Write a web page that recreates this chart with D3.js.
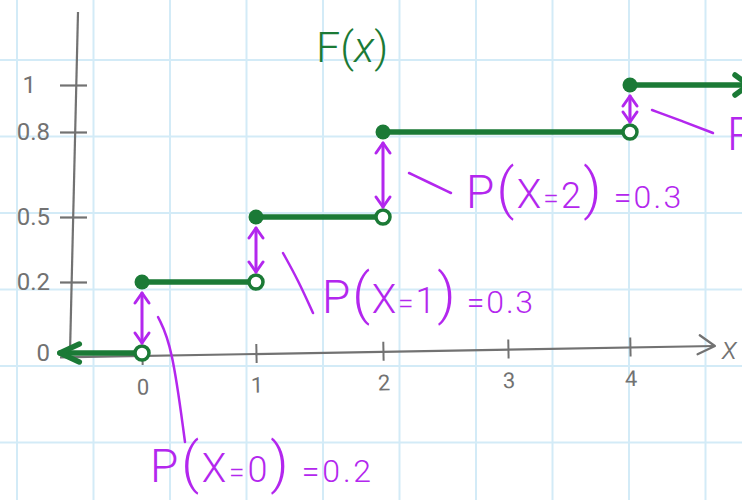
<!DOCTYPE html>
<html lang="en">
<head>
<meta charset="utf-8">
<script src="https://d3js.org/d3.v7.min.js"></script>
<title>F(x) step chart</title>
<style>
    body { margin: 0; background: #fff; }
    svg text { font-family: Roboto, sans-serif; font-weight: 300; }
</style>
</head>
<body>
<div id="container"></div>
<script>
    // data
    var values = [0, 1, 2, 4];
    var cdf = [0.2, 0.5, 0.8, 1];
    var probs = [0.2, 0.3, 0.3, 0.2];
    var yTicks = [0, 0.2, 0.5, 0.8, 1];
    var yTickLabels = ["0", "0.2", "0.5", "0.8", "1"];
    var xTicks = [0, 1, 2, 3, 4];
    var xTickLabels = ["0", "1", "2", "3", "4"];

    var width = 742, height = 500;
    var green = "#1b7a36", magenta = "#b327ee", gray = "#727272", gridColor = "#d3ebf7";

    var svg = d3.select("#container")
        .append("svg")
        .attr("width", width)
        .attr("height", height);

    // the sketch is hand drawn, so the axes are not evenly spaced
    var x = d3.scaleLinear()
        .domain([-1, 0, 1, 2, 3, 4, 5])
        .range([28, 142, 256, 383, 508, 630, 755]);
    var y = d3.scaleLinear()
        .domain([0, 0.2, 0.5, 0.8, 1])
        .range([353, 282, 217, 132, 85]);

    // graph paper
    var grid = svg.append("g").attr("stroke", gridColor).attr("stroke-width", 2);
    grid.selectAll(".v").data(d3.range(17, width, 76.5)).enter().append("line")
        .attr("x1", function(d) { return d; }).attr("x2", function(d) { return d; })
        .attr("y1", 0).attr("y2", height);
    grid.selectAll(".h").data(d3.range(60, height, 76.5)).enter().append("line")
        .attr("x1", 0).attr("x2", width)
        .attr("y1", function(d) { return d; }).attr("y2", function(d) { return d; });

    // y axis
    svg.append("path")
        .attr("d", d3.line()([[78, 12], [70, y(0)]]))
        .attr("stroke", gray).attr("stroke-width", 2.2).attr("fill", "none");
    var yAxis = svg.append("g")
        .attr("transform", "translate(74,0)")
        .call(d3.axisLeft(y).tickValues(yTicks)
            .tickFormat(function(d, i) { return yTickLabels[i]; })
            .tickSize(14).tickPadding(10));
    yAxis.select(".domain").remove();
    yAxis.selectAll(".tick line").attr("x2", -14).attr("x1", 13)
        .attr("stroke", gray).attr("stroke-width", 2.2)
        .style("display", function(d) { return d === 0 ? "none" : null; });
    yAxis.selectAll(".tick text")
        .attr("fill", gray).style("font-size", "24px").style("font-weight", 400)
        .attr("x", function(d) { return d === 1 ? -38 : -24; });

    // x axis, drawn slightly tilted
    var xg = svg.append("g")
        .attr("transform", "translate(0," + (y(0) + 3) + ") rotate(-1," + x(0) + ",0)");
    var xAxis = xg.call(d3.axisBottom(x).tickValues(xTicks)
        .tickFormat(function(d, i) { return xTickLabels[i]; })
        .tickSize(9).tickPadding(14));
    xAxis.select(".domain").remove();
    xAxis.selectAll(".tick line").attr("y1", -10)
        .attr("stroke", gray).attr("stroke-width", 2);
    xAxis.selectAll(".tick text").attr("fill", gray)
        .style("font-size", "22px").style("font-weight", 400);
    xg.append("path")
        .attr("d", d3.line()([[60, 0], [x(4.68), 0]]))
        .attr("stroke", gray).attr("stroke-width", 2.2).attr("fill", "none");
    xg.append("path")
        .attr("d", d3.line()([[x(4.56), -11], [x(4.68), 0], [x(4.54), 8]]))
        .attr("stroke", gray).attr("stroke-width", 2.2).attr("fill", "none")
        .attr("stroke-linecap", "round").attr("stroke-linejoin", "round");
    svg.append("text")
        .attr("x", 722).attr("y", 359)
        .attr("fill", gray).style("font-size", "32px").style("font-style", "italic")
        .text("x");

    // F(x) title
    var title = svg.append("text")
        .attr("x", 316).attr("y", 62)
        .attr("fill", green).style("font-size", "43px");
    title.append("tspan").text("F(");
    title.append("tspan").style("font-style", "italic").text("x");
    title.append("tspan").text(")");

    // step function
    var segs = values.map(function(v, i) {
        return { x0: v, x1: i < values.length - 1 ? values[i + 1] : 4.95, f: cdf[i], prev: i > 0 ? cdf[i - 1] : 0 };
    });
    var steps = svg.append("g")
        .attr("stroke", green).attr("stroke-width", 5.5)
        .attr("stroke-linecap", "round").attr("stroke-linejoin", "round").attr("fill", "none");

    // left part, F = 0
    steps.append("path").attr("d", d3.line()([[x(0), y(0)], [x(-0.72), y(0)]]));
    steps.append("path").attr("d", d3.line()([[x(-0.55), y(0) - 9], [x(-0.72), y(0)], [x(-0.55), y(0) + 9]]));

    steps.selectAll(".seg").data(segs).enter().append("path")
        .attr("d", function(d) { return d3.line()([[x(d.x0), y(d.f)], [x(d.x1), y(d.f)]]); });
    steps.append("path")
        .attr("d", d3.line()([[x(4.84), y(1) - 10], [x(4.95), y(1)], [x(4.84), y(1) + 10]]));

    // open circles at the bottom of each jump
    svg.selectAll(".open").data(segs).enter().append("circle")
        .attr("cx", function(d) { return x(d.x0); })
        .attr("cy", function(d) { return y(d.prev); })
        .attr("r", 7)
        .attr("fill", "#fff").attr("stroke", green).attr("stroke-width", 3.5);
    // filled dots at the top
    svg.selectAll(".closed").data(segs).enter().append("circle")
        .attr("cx", function(d) { return x(d.x0); })
        .attr("cy", function(d) { return y(d.f); })
        .attr("r", 7.5)
        .attr("fill", green);

    // jump arrows
    var jumps = svg.append("g")
        .attr("stroke", magenta).attr("stroke-width", 3).attr("fill", "none")
        .attr("stroke-linecap", "round").attr("stroke-linejoin", "round");
    segs.forEach(function(d) {
        var cx = x(d.x0), top = y(d.f) + 11, bot = y(d.prev) - 10;
        jumps.append("path").attr("d", d3.line()([[cx, top], [cx, bot]]));
        jumps.append("path").attr("d", d3.line()([[cx - 7, top + 10], [cx, top], [cx + 7, top + 10]]));
        jumps.append("path").attr("d", d3.line()([[cx - 7, bot - 10], [cx, bot], [cx + 7, bot - 10]]));
    });

    // labels for each jump, with leader lines
    var labelLayout = [
        { tx: 150, ty: 482, ls: 2.8, lead: [[158, 317], [172, 345], [185, 442]] },
        { tx: 322, ty: 313, ls: 1.8, lead: [[283, 253], [298, 280], [313, 313]] },
        { tx: 466, ty: 208, ls: 2.2, lead: [[409, 173], [430, 183], [451, 193]] },
        { tx: 727, ty: 150, ls: 3, lead: [[652, 110], [682, 121], [713, 133]] }
    ];
    var curve = d3.line().curve(d3.curveBasis);
    labelLayout.forEach(function(l, i) {
        svg.append("path").attr("d", curve(l.lead))
            .attr("stroke", magenta).attr("stroke-width", 2.5).attr("fill", "none")
            .attr("stroke-linecap", "round");
        var t = svg.append("text")
            .attr("x", l.tx).attr("y", l.ty)
            .attr("fill", magenta)
            .style("letter-spacing", l.ls + "px");
        t.append("tspan").style("font-size", "46px").text("P");
        t.append("tspan").style("font-size", "56px").text("(");
        t.append("tspan").style("font-size", "40px").text("X");
        t.append("tspan").style("font-size", "28px").text("=");
        t.append("tspan").style("font-size", "36px").text(values[i]);
        t.append("tspan").style("font-size", "56px").text(")");
        t.append("tspan").style("font-size", "32px").text(" =" + probs[i]);
    });
</script>
</body>
</html>
